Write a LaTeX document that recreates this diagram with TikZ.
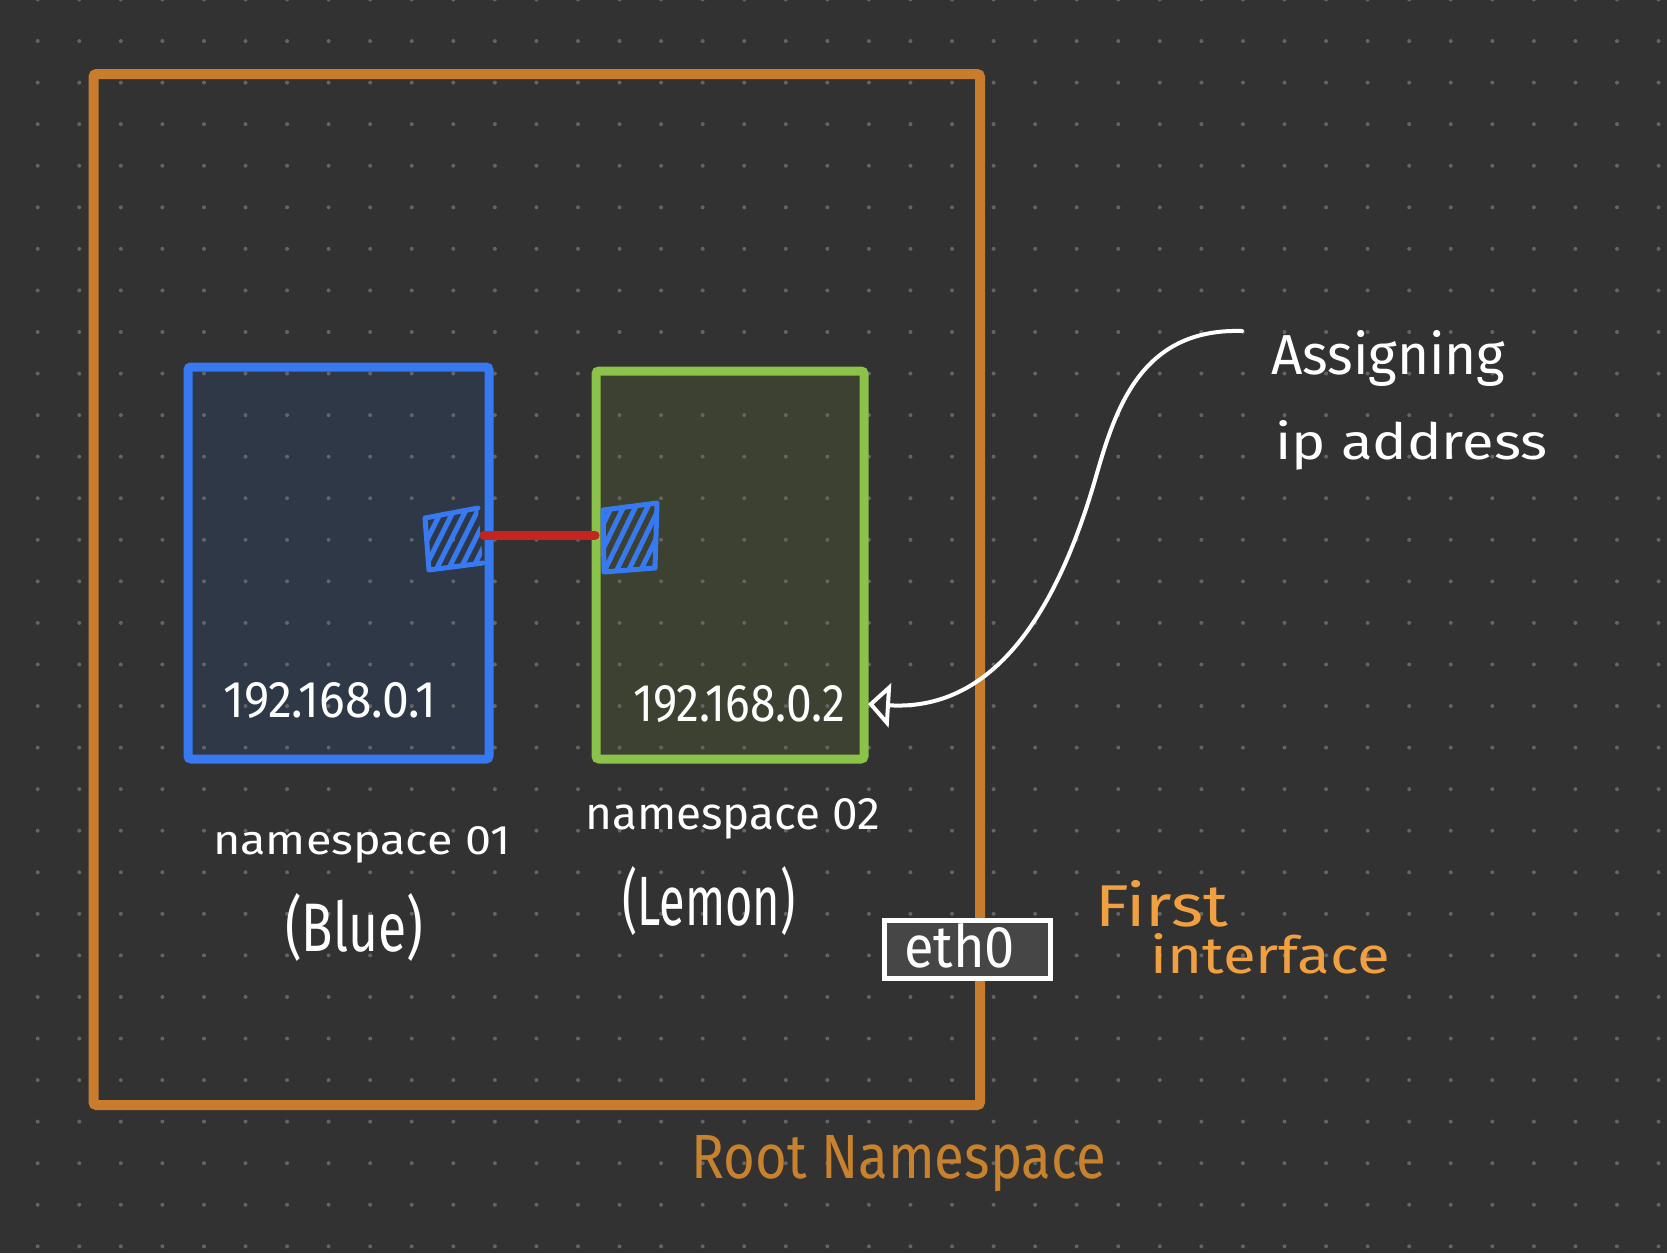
\documentclass[tikz,border=0pt]{standalone}
\usepackage{graphicx}
\usepackage{fontspec}
\setmainfont{Fira Sans}
\usetikzlibrary{arrows.meta}
\definecolor{bgc}{RGB}{50,50,50}
\definecolor{dotc}{RGB}{100,100,100}
\definecolor{orangebox}{RGB}{201,124,44}
\definecolor{orangetext}{RGB}{200,130,46}
\definecolor{orangelight}{RGB}{240,160,64}
\definecolor{bluec}{RGB}{54,121,240}
\definecolor{bluefill}{RGB}{46,56,70}
\definecolor{greenc}{RGB}{139,195,74}
\definecolor{greenfill}{RGB}{60,65,50}
\definecolor{ethfill}{RGB}{70,70,70}
\definecolor{redc}{RGB}{196,38,31}
\newcommand{\hw}[3]{\resizebox{#1pt}{#2pt}{#3}}
\begin{document}
\begin{tikzpicture}[x=1pt,y=-1pt,
  frame/.style={draw, line width=10pt, rounded corners=3pt, inner sep=0pt, outer sep=0pt},
  lbl/.style={inner sep=0pt, anchor=base west},
  portshape/.style={draw=bluec, line width=5pt, line join=round, line cap=round},
  hatch/.style={bluec, line width=5pt, line cap=round},
  callout/.style={draw=white, line width=4pt, line cap=round, -{Triangle[open, length=22pt, width=44pt, line width=4pt]}}
]
\useasboundingbox (0,0) rectangle (1667,1253);
\fill[bgc] (0,0) rectangle (1667,1253);
% fills
\fill[bluefill] (188,367) rectangle (489,759);
\fill[greenfill] (596,371) rectangle (864,759);
% dot grid
\foreach \i in {0,...,39}
  \foreach \j in {0,...,30}
    \fill[dotc] ({37.7+\i*41.56},{-0.5+\j*41.56}) circle (2pt);
% root namespace frame
\node[frame, draw=orangebox, minimum width=886.5pt, minimum height=1031pt] (root) at (536.75,589.5) {};
% namespaces
\node[frame, draw=bluec, line width=9pt, minimum width=301pt, minimum height=392pt] (ns1) at (338.5,563) {};
\node[frame, draw=greenc, line width=9pt, minimum width=268pt, minimum height=388pt] (ns2) at (730,565) {};
% eth0 box
\node[draw=white, fill=ethfill, line width=5pt, minimum width=166pt, minimum height=58pt, inner sep=0pt] (eth) at (967,949) {};
% ports
\begin{scope}
  \clip (425,518) -- (478,508) -- (483,563) -- (429,570) -- cycle;
  \foreach \k in {0,...,8}
    \draw[hatch] ({395+\k*12},580) -- ({435+\k*12},500);
\end{scope}
\draw[portshape] (425,518) -- (478,508) (425,518) -- (429,570) -- (483,563);
\begin{scope}
  \clip (603,510) -- (657,503) -- (655,568) -- (604,572) -- cycle;
  \foreach \k in {0,...,8}
    \draw[hatch] ({575+\k*12},582) -- ({615+\k*12},500);
\end{scope}
\draw[portshape] (603,510) -- (657,503) -- (655,568) -- (604,572) -- cycle;
\coordinate (p1) at (484,535);
\coordinate (p2) at (595,535);
\draw[redc, line width=9pt, line cap=round] (p1) -- (p2);
% labels
\node[lbl, white] (ip1) at (223,717) {\hw{213}{35}{192.168.0.1}};
\node[lbl, white] (ip2) at (633,721) {\hw{212}{36}{192.168.0.2}};
\node[lbl, white] (ns1a) at (213,854) {\hw{297}{28}{namespace 01}};
\node[lbl, white] (ns1b) at (285,951) {\hw{138}{58}{(Blue)}};
\node[lbl, white] (ns2a) at (585,829) {\hw{295}{31}{namespace 02}};
\node[lbl, white] (ns2b) at (622,925) {\hw{173}{59}{(Lemon)}};
\node[lbl, white] (ethl) at (904,967) {\hw{111}{44}{eth0}};
\node[lbl, orangelight] (fi1) at (1095,926) {\hw{133}{46}{First}};
\node[lbl, orangelight] (fi2) at (1150,973) {\hw{240}{40}{interface}};
\node[lbl, orangetext] (rootl) at (691,1178) {\hw{415}{43}{Root Namespace}};
\node[lbl, white] (as1) at (1271,374) {\hw{234}{44}{Assigning}};
\node[lbl, white] (as2) at (1275,459) {\hw{272}{39}{ip address}};
% callout arrow
\coordinate (a0) at (1242,331);
\coordinate (a1) at (868,704);
\draw[callout] (a0) .. controls (1140,328) and (1115,410) .. (1095,480)
  .. controls (1060,600) and (1000,712) .. (a1);
\end{tikzpicture}
\end{document}
